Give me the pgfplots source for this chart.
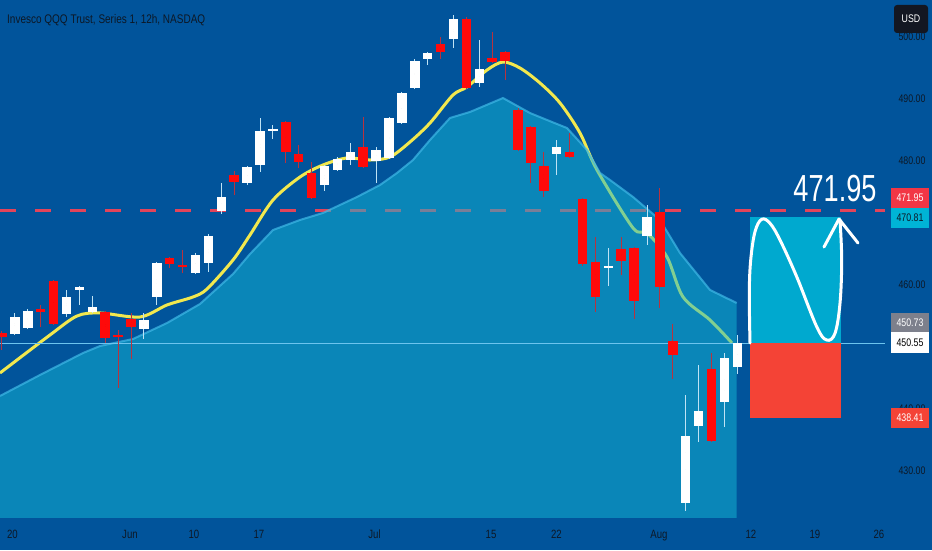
\documentclass[border=0pt]{standalone}
\usepackage{pgfplots}
\pgfplotsset{compat=1.18}
\usepackage{pgfplotstable}
\usepackage{fontspec}
\setmainfont{Liberation Sans}
\newfontfamily\nar{Liberation Sans}[FakeStretch=0.8]
\newfontfamily\bignar{Liberation Sans}[FakeStretch=0.72]

\definecolor{bg}{HTML}{01549B}
\definecolor{areac}{HTML}{13B8D5}
\definecolor{areaedge}{HTML}{3FB8E6}
\definecolor{ema}{HTML}{F2E84E}
\definecolor{dashred}{HTML}{E2445A}
\definecolor{candred}{HTML}{FF0A0A}
\definecolor{wickred}{HTML}{B8323E}
\definecolor{wickup}{HTML}{BFE3F5}
\definecolor{tgtbox}{HTML}{00A9CF}
\definecolor{stopbox}{HTML}{F44336}
\definecolor{lastline}{HTML}{6CC4EE}
\definecolor{txt}{HTML}{0D1826}
\definecolor{usdbox}{HTML}{131722}
\definecolor{lblred}{HTML}{F23645}
\definecolor{lblcyan}{HTML}{00B4D6}
\definecolor{lblgrey}{HTML}{7D808C}

% 12h candles, x = bar index
\pgfplotstableread{
x o h l c
1 452.00 455.39 451.84 454.74
2 452.97 456.03 452.81 455.71
5 455.22 459.10 454.74 457.97
6 459.10 459.70 456.68 459.58
7 455.55 458.13 455.40 456.35
11 452.81 455.39 451.19 454.26
12 457.97 463.61 456.68 463.45
15 461.84 465.06 461.68 464.74
16 463.45 468.13 462.00 467.81
17 471.84 476.35 471.35 474.10
19 476.35 479.10 476.03 478.93
20 479.26 486.84 478.13 484.74
21 484.82 485.71 483.45 484.98
25 476.03 479.26 475.06 479.10
26 478.45 480.55 478.29 480.22
27 480.06 482.81 479.26 481.35
29 479.90 482.16 476.35 481.68
30 480.39 487.00 480.22 486.84
31 486.03 491.03 485.87 490.87
32 491.68 496.35 491.52 496.03
33 496.35 497.45 495.39 497.32
35 499.58 503.45 498.13 502.81
37 492.48 499.42 491.84 494.74
43 481.03 483.29 477.64 482.16
47 462.72 465.87 459.74 462.88
50 467.81 472.81 466.35 470.87
53 424.74 442.16 423.45 435.55
54 437.16 446.97 434.58 439.58
56 441.03 448.93 437.00 448.13
57 446.68 451.84 445.55 450.55
}\upbars

\pgfplotstableread{
x o h l c
0 452.16 452.48 449.42 451.52
3 456.03 456.68 453.13 455.55
4 460.55 460.71 453.45 453.61
8 455.55 455.71 450.55 451.35
9 451.76 452.64 443.29 451.52
10 454.42 455.39 447.97 453.13
13 464.26 464.42 462.64 463.29
14 463.05 465.55 461.84 462.81
18 477.64 478.29 474.42 476.52
22 486.19 486.35 479.58 481.35
23 481.03 482.48 478.77 479.74
24 477.97 479.74 473.77 473.93
28 482.16 487.00 478.77 478.93
34 498.77 499.90 496.35 497.48
36 502.81 503.13 491.52 491.68
38 496.52 500.71 495.70 495.87
39 497.48 497.64 492.97 496.03
40 488.13 488.45 481.52 481.68
41 485.39 485.55 476.35 479.58
42 479.10 481.35 474.10 475.06
44 481.35 484.42 480.39 480.55
45 473.77 473.93 462.97 463.29
46 463.61 467.65 455.55 457.97
48 465.71 467.65 461.52 463.77
49 465.87 466.03 454.42 457.32
51 471.68 475.55 456.19 459.58
52 450.87 453.61 444.74 448.61
55 446.35 448.93 434.58 434.74
}\downbars

\pgfplotsset{
  wick/.style={only marks, mark=*, mark size=0pt, mark options={draw=none,fill=none}, forget plot,
    error bars/.cd, y dir=both, y explicit, error mark=none,
    error bar style={line width=1pt, draw=#1}},
  body/.style={only marks, mark=*, mark size=0pt, mark options={draw=none,fill=none}, forget plot,
    error bars/.cd, y dir=both, y explicit, error mark=none,
    error bar style={line width=9.5pt, draw=#1}},
}

\begin{document}
\begin{tikzpicture}
\fill[bg] (0,0) rectangle (932pt,550pt);
\useasboundingbox (0,0) rectangle (932pt,550pt);
\begin{axis}[
    at={(0pt,33pt)}, anchor=south west,
    scale only axis, width=885pt, height=517pt,
    xmin=-0.155, xmax=68.45,
    ymin=422.48, ymax=505.87,
    axis line style={draw=none},
    major tick length=0pt,
    xtick={0.81,9.92,14.88,19.92,28.88,37.91,42.98,50.93,58.06,63.02,67.98},
    xticklabels={20,Jun,10,17,Jul,15,22,Aug,12,19,26},
    ytick={430,440,460,480,490,500},
    yticklabels={430.00,440.00,460.00,480.00,490.00,500.00},
    yticklabel pos=right,
    xticklabel style={font=\nar\fontsize{12}{12}\selectfont, text=txt, anchor=base, yshift=-21pt},
    yticklabel style={font=\nar\fontsize{11}{11}\selectfont, text=txt, anchor=center, xshift=27pt},
]

% resistance level
\addplot[dashred, line width=3pt, dash pattern=on 16pt off 19pt, forget plot]
  coordinates {(-0.155,471.95) (68.45,471.95)};

% moving average
\addplot[ema, line width=3pt, smooth, tension=0.5, forget plot] coordinates {
(-0.155,445.71) (3.721,451.84) (5.814,454.90) (7.597,455.39) (10.698,454.74)
(12.791,456.68) (14.806,457.97) (15.891,459.26) (17.907,463.93) (19.225,467.97)
(21.008,473.61) (23.101,477.32) (24.884,479.26) (26.744,480.39) (28.527,480.06)
(30.078,480.55) (31.628,482.97) (33.178,486.03) (34.961,490.55) (36.047,491.84)
(37.597,494.58) (38.837,495.87) (40.155,494.90) (41.705,492.48) (43.256,489.26)
(44.806,484.42) (46.124,478.45) (48.915,469.10) (50.000,468.29) (51.550,464.42)
(52.791,457.97) (54.884,454.26) (56.589,450.55)};

% band area
\addplot[fill=areac, fill opacity=0.5, draw=none, forget plot] coordinates {
(-0.155,422.0) (-0.155,442.00) (2.946,445.39) (6.279,448.93) (7.597,450.06) (10.155,451.19)
(12.791,453.77) (15.349,456.84) (17.907,461.68) (19.225,464.90) (21.008,468.77)
(23.101,470.39) (24.884,471.52) (27.519,474.10) (29.302,476.03) (30.620,477.97)
(31.860,480.06) (33.178,483.29) (34.729,486.84) (36.279,487.81) (38.837,490.06)
(40.930,487.64) (42.248,486.52) (43.798,485.22) (45.349,481.68) (46.357,477.97)
(47.132,476.84) (48.915,474.10) (51.008,470.39) (52.558,465.06) (54.884,459.10)
(56.95,457.00) (56.95,422.0)} -- cycle;
\addplot[areaedge, line width=2pt, opacity=0.7, forget plot] coordinates {
(-0.155,442.00) (2.946,445.39) (6.279,448.93) (7.597,450.06) (10.155,451.19)
(12.791,453.77) (15.349,456.84) (17.907,461.68) (19.225,464.90) (21.008,468.77)
(23.101,470.39) (24.884,471.52) (27.519,474.10) (29.302,476.03) (30.620,477.97)
(31.860,480.06) (33.178,483.29) (34.729,486.84) (36.279,487.81) (38.837,490.06)
(40.930,487.64) (42.248,486.52) (43.798,485.22) (45.349,481.68) (46.357,477.97)
(47.132,476.84) (48.915,474.10) (51.008,470.39) (52.558,465.06) (54.884,459.10)
(56.95,457.00)};

% last price line
\addplot[lastline, line width=0.8pt, forget plot] coordinates {(-0.155,450.55) (68.45,450.55)};

% candles
\addplot[wick=wickred] table[x=x, y expr={(\thisrow{h}+\thisrow{l})/2}, y error expr={(\thisrow{h}-\thisrow{l})/2}] {\downbars};
\addplot[wick=wickup] table[x=x, y expr={(\thisrow{h}+\thisrow{l})/2}, y error expr={(\thisrow{h}-\thisrow{l})/2}] {\upbars};
\addplot[body=candred] table[x=x, y expr={(\thisrow{o}+\thisrow{c})/2}, y error expr={max(abs(\thisrow{o}-\thisrow{c})/2,0.1)}] {\downbars};
\addplot[body=white] table[x=x, y expr={(\thisrow{o}+\thisrow{c})/2}, y error expr={max(abs(\thisrow{o}-\thisrow{c})/2,0.1)}] {\upbars};

% long position boxes
\fill[tgtbox] (axis cs:57.98,450.55) rectangle (axis cs:65.04,470.81);
\fill[stopbox] (axis cs:57.98,438.41) rectangle (axis cs:65.04,450.55);
\end{axis}

% projected path
\draw[white, line width=3pt, line cap=round] plot[smooth, tension=0.6] coordinates {
(750pt,207pt) (749.3pt,256.7pt) (750.7pt,290pt) (755pt,318.3pt) (761.7pt,330.7pt)
(770pt,326.7pt) (780pt,310pt) (796.7pt,273.3pt) (816.7pt,223.3pt) (826.7pt,210pt)
(835pt,216.7pt) (840pt,246.7pt) (841.7pt,290pt) (840pt,330pt)};
\draw[white, line width=3pt, line cap=round, line join=round] (824pt,303pt) -- (839pt,331pt) -- (858pt,307pt);
\node[text=white, font=\bignar\fontsize{37.7}{40}\selectfont, inner sep=0pt] at (835pt,361.5pt) {471.95};

% title
\node[anchor=west, text=txt, font=\nar\fontsize{12.5}{14}\selectfont, inner sep=0pt] at (7pt,530pt) {Invesco QQQ Trust, Series 1, 12h, NASDAQ};

% price scale labels
\fill[usdbox, rounded corners=3pt] (894pt,517pt) rectangle (928pt,545pt);
\node[text=white, font=\nar\fontsize{11}{11}\selectfont] at (911pt,531pt) {USD};
\fill[lblred] (891pt,342pt) rectangle (929pt,362pt);
\node[text=white, font=\nar\fontsize{11}{11}\selectfont] at (910pt,352pt) {471.95};
\fill[lblcyan] (891pt,322pt) rectangle (929pt,342pt);
\node[text=txt, font=\nar\fontsize{11}{11}\selectfont] at (910pt,332pt) {470.81};
\fill[lblgrey] (891pt,218pt) rectangle (929pt,237pt);
\node[text=white, font=\nar\fontsize{11}{11}\selectfont] at (910pt,227.5pt) {450.73};
\fill[white] (891pt,197pt) rectangle (929pt,218pt);
\node[text=black, font=\nar\fontsize{11}{11}\selectfont] at (910pt,207.5pt) {450.55};
\fill[stopbox] (891pt,122pt) rectangle (929pt,142pt);
\node[text=white, font=\nar\fontsize{11}{11}\selectfont] at (910pt,132pt) {438.41};
\end{tikzpicture}
\end{document}
